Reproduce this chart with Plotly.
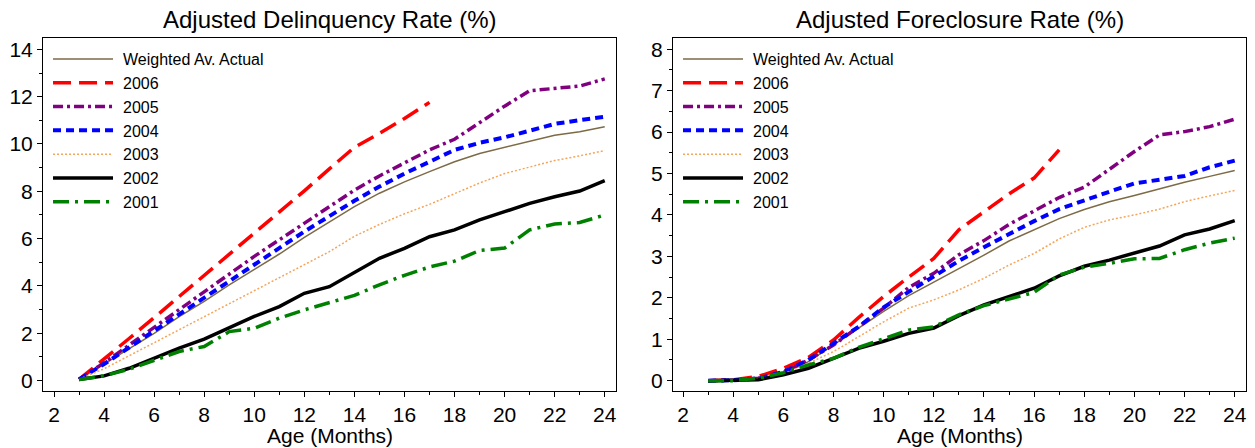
import plotly.graph_objects as go

ages = list(range(3, 25))
ages_2006 = list(range(3, 18))
names = ["Weighted Av. Actual", "2006", "2005", "2004", "2003", "2002", "2001"]

# Adjusted Delinquency Rate (%)
del_wa = [0.05, 0.7, 1.35, 2.0, 2.7, 3.35, 4.05, 4.7, 5.35, 6.05, 6.7, 7.35, 7.92, 8.4, 8.83, 9.25, 9.6, 9.86, 10.14, 10.37, 10.52, 10.73]
del_2006 = [0.05, 0.9, 1.78, 2.66, 3.55, 4.43, 5.32, 6.22, 7.12, 8.02, 8.95, 9.86, 10.45, 11.08, 11.76]
del_2005 = [0.05, 0.75, 1.5, 2.25, 3.0, 3.75, 4.5, 5.25, 5.95, 6.65, 7.35, 8.05, 8.65, 9.2, 9.75, 10.2, 10.9, 11.6, 12.25, 12.35, 12.45, 12.75]
del_2004 = [0.05, 0.7, 1.4, 2.1, 2.8, 3.5, 4.2, 4.9, 5.6, 6.3, 6.95, 7.6, 8.2, 8.75, 9.25, 9.75, 10.05, 10.28, 10.56, 10.85, 11.01, 11.15]
del_2003 = [0.05, 0.5, 1.05, 1.6, 2.15, 2.7, 3.25, 3.8, 4.35, 4.9, 5.45, 6.1, 6.6, 7.05, 7.45, 7.9, 8.35, 8.75, 9.04, 9.3, 9.5, 9.72]
del_2002 = [0.05, 0.2, 0.52, 0.94, 1.37, 1.75, 2.21, 2.71, 3.13, 3.69, 3.97, 4.55, 5.17, 5.59, 6.08, 6.37, 6.79, 7.14, 7.49, 7.77, 8.01, 8.45]
del_2001 = [0.05, 0.2, 0.48, 0.87, 1.23, 1.44, 2.07, 2.21, 2.64, 2.99, 3.3, 3.6, 4.05, 4.45, 4.8, 5.05, 5.5, 5.6, 6.37, 6.62, 6.68, 7.0]

# Adjusted Foreclosure Rate (%)
fc_wa = [0.0, 0.01, 0.05, 0.18, 0.46, 0.86, 1.28, 1.67, 2.05, 2.37, 2.71, 3.03, 3.37, 3.64, 3.91, 4.13, 4.32, 4.47, 4.63, 4.79, 4.93, 5.07]
fc_2006 = [0.0, 0.02, 0.1, 0.3, 0.56, 0.98, 1.52, 2.03, 2.5, 2.95, 3.64, 4.08, 4.51, 4.89, 5.57]
fc_2005 = [0.0, 0.01, 0.06, 0.2, 0.5, 0.86, 1.3, 1.75, 2.25, 2.59, 3.04, 3.38, 3.77, 4.1, 4.42, 4.67, 5.11, 5.53, 5.93, 6.01, 6.13, 6.31]
fc_2004 = [0.0, 0.01, 0.05, 0.21, 0.5, 0.9, 1.3, 1.77, 2.15, 2.51, 2.89, 3.22, 3.54, 3.85, 4.14, 4.36, 4.56, 4.76, 4.85, 4.94, 5.15, 5.31]
fc_2003 = [0.0, 0.01, 0.04, 0.16, 0.42, 0.7, 1.06, 1.42, 1.75, 1.95, 2.19, 2.47, 2.79, 3.07, 3.42, 3.70, 3.88, 4.0, 4.14, 4.32, 4.46, 4.59]
fc_2002 = [0.0, 0.0, 0.02, 0.14, 0.3, 0.54, 0.78, 0.95, 1.14, 1.27, 1.57, 1.83, 2.03, 2.23, 2.53, 2.76, 2.91, 3.07, 3.25, 3.52, 3.66, 3.86]
fc_2001 = [0.0, 0.0, 0.06, 0.19, 0.38, 0.54, 0.8, 1.02, 1.22, 1.30, 1.59, 1.81, 1.97, 2.13, 2.55, 2.74, 2.83, 2.94, 2.95, 3.16, 3.32, 3.44]

titles = ["Adjusted Delinquency Rate (%)", "Adjusted Foreclosure Rate (%)"]
x_title = "Age (Months)"

styles = [
    dict(color="#7d6a46", width=1.5, dash="solid"),
    dict(color="#ff0000", width=3.5, dash="18px,8px"),
    dict(color="#800080", width=3.5, dash="10px,4px,3px,4px"),
    dict(color="#0000ff", width=4, dash="8px,5px"),
    dict(color="#f5a55a", width=1.5, dash="2px,2px"),
    dict(color="#000000", width=3.5, dash="solid"),
    dict(color="#008000", width=3.5, dash="16px,6px,3px,6px"),
]

left_series = [del_wa, del_2006, del_2005, del_2004, del_2003, del_2002, del_2001]
right_series = [fc_wa, fc_2006, fc_2005, fc_2004, fc_2003, fc_2002, fc_2001]

FONT = "Liberation Sans, Arial, sans-serif"
fig = go.Figure()

for panel, (series, xa, ya, lg) in enumerate([(left_series, "x", "y", "legend"), (right_series, "x2", "y2", "legend2")]):
    for i, (name, vals) in enumerate(zip(names, series)):
        xs = ages_2006 if name == "2006" else ages
        fig.add_trace(go.Scatter(
            x=xs, y=vals, mode="lines", name=name,
            line=styles[i], xaxis=xa, yaxis=ya, legend=lg,
            hoverinfo="skip",
        ))

L0, L1 = 43 / 1255, 616 / 1255
R0, R1 = 673 / 1255, 1246 / 1255
Y0, Y1 = 1 - 391 / 448, 1 - 38 / 448

axis_common = dict(
    showline=True, linecolor="#000000", linewidth=1, mirror=True,
    ticks="outside", ticklen=5, tickwidth=1, tickcolor="#000000",
    showgrid=False, zeroline=False,
    tickfont=dict(family=FONT, size=21, color="#000000"),
)

fig.update_layout(
    width=1255, height=448,
    margin=dict(l=0, r=0, t=0, b=0),
    paper_bgcolor="white", plot_bgcolor="white",
    showlegend=True,
    xaxis=dict(domain=[L0, L1], range=[1.56, 24.45], tickmode="linear", tick0=2, dtick=2,
               minor=dict(ticks="outside", ticklen=3, tickcolor="#000000", dtick=1, tick0=2, showgrid=False),
               anchor="y", **axis_common),
    yaxis=dict(domain=[Y0, Y1], range=[-0.44, 14.48], tickmode="linear", tick0=0, dtick=2,
               minor=dict(ticks="outside", ticklen=3, tickcolor="#000000", dtick=1, tick0=0, showgrid=False),
               anchor="x", **axis_common),
    xaxis2=dict(domain=[R0, R1], range=[1.6, 24.45], tickmode="linear", tick0=2, dtick=2,
                minor=dict(ticks="outside", ticklen=3, tickcolor="#000000", dtick=1, tick0=2, showgrid=False),
                anchor="y2", **axis_common),
    yaxis2=dict(domain=[Y0, Y1], range=[-0.25, 8.27], tickmode="linear", tick0=0, dtick=1,
                minor=dict(ticks="outside", ticklen=3, tickcolor="#000000", dtick=0.5, tick0=0, showgrid=False),
                anchor="x2", **axis_common),
    legend=dict(x=L0 + 0.004, y=Y1 - 0.009, xanchor="left", yanchor="top",
                bgcolor="rgba(0,0,0,0)", borderwidth=0, itemwidth=65,
                font=dict(family=FONT, size=16, color="#000000"),
                itemclick=False, itemdoubleclick=False),
    legend2=dict(x=R0 + 0.004, y=Y1 - 0.009, xanchor="left", yanchor="top",
                 bgcolor="rgba(0,0,0,0)", borderwidth=0, itemwidth=65,
                 font=dict(family=FONT, size=16, color="#000000"),
                 itemclick=False, itemdoubleclick=False),
)

for x0, x1, t in [(L0, L1, titles[0]), (R0, R1, titles[1])]:
    fig.add_annotation(text=t, x=(x0 + x1) / 2, y=1 - 20 / 448, xref="paper", yref="paper",
                       xanchor="center", yanchor="middle", showarrow=False,
                       font=dict(family=FONT, size=24, color="#000000"))
    fig.add_annotation(text=x_title, x=(x0 + x1) / 2, y=0, xref="paper", yref="paper",
                       xanchor="center", yanchor="bottom", showarrow=False, borderpad=0,
                       font=dict(family=FONT, size=21, color="#000000"))

post = """
document.documentElement.style.margin='0';
document.body.style.margin='0';
document.body.style.padding='0';
document.body.style.overflow='hidden';
function fixLegend(){
  document.querySelectorAll('.legendlines path').forEach(function(p){ p.setAttribute('d','M5,0h60'); });
}
fixLegend();
var gd = document.getElementById('{plot_id}');
if (gd && gd.on) { gd.on('plotly_afterplot', fixLegend); }
setTimeout(fixLegend, 50);
"""

fig.write_html("out.html", post_script=post, config={"displayModeBar": False})
